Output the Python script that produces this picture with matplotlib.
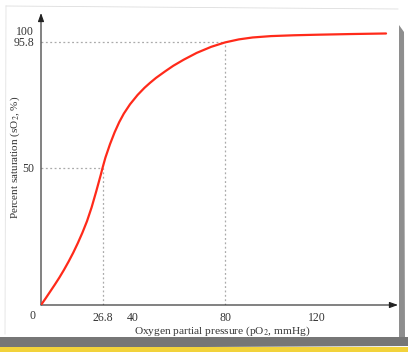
import matplotlib
matplotlib.use('Agg')
import matplotlib.pyplot as plt
from matplotlib.patches import Polygon, Rectangle

plt.rcParams['font.family'] = ['Liberation Serif', 'DejaVu Serif']
plt.rcParams['mathtext.fontset'] = 'stix'

# Values (pO2 in mmHg, saturation in %)
po2 = [0, 2, 4, 6, 8, 10, 12, 14, 16, 18, 20, 22, 24, 26, 26.8, 28, 30, 32, 34, 36,
       38.7, 42, 45, 47.4, 50, 54, 57.5, 62, 67.7, 74, 80, 86, 92, 100, 110, 120, 135, 150]
so2 = [0, 2.4, 4.9, 7.4, 10.0, 12.8, 15.8, 19.0, 22.5, 26.3, 30.5, 35.5, 41.3, 47.4, 50, 53.6,
       58.5, 62.8, 66.5, 69.6, 73.0, 76.4, 79.0, 80.8, 82.6, 85.0, 87.0, 89.2, 91.7, 93.9,
       95.5, 96.6, 97.3, 97.8, 98.1, 98.3, 98.55, 98.75]

p50 = 26.8
s50 = 50
p_art = 80
s_art = 95.8
xtick_vals = [26.8, 40, 80, 120]
xtick_labels = ['26.8', '40', '80', '120']
ytick_vals = [50, 95.8, 100]
ytick_labels = ['50', '95.8', '100']

W, H = 408, 352
fig = plt.figure(figsize=(W / 100, H / 100), dpi=100)
fig.patch.set_facecolor('white')

# paper shadow / torn edges
fig.add_artist(Polygon([[0, 15 / H], [1, 15 / H], [1, 6 / H], [0, 4 / H]],
                       closed=True, transform=fig.transFigure, facecolor='#767676',
                       edgecolor='none', zorder=0))
fig.add_artist(Rectangle((0, 0), 1, 5 / H, transform=fig.transFigure,
                         facecolor='#f2d23a', edgecolor='none', zorder=0))
fig.add_artist(Polygon([[399 / W, 327 / H], [404 / W, 320 / H], [405 / W, 15 / H], [399 / W, 15 / H]],
                       closed=True, transform=fig.transFigure, facecolor='#8e8e8e',
                       edgecolor='none', zorder=0))
# faint paper outline
fig.add_artist(plt.Line2D([6 / W, 398 / W], [1 - 6 / H, 1 - 9 / H], transform=fig.transFigure,
                          color='#dddddd', lw=0.6))
fig.add_artist(plt.Line2D([6 / W, 5 / W], [1 - 6 / H, 18 / H], transform=fig.transFigure,
                          color='#e2e2e2', lw=0.6))

ax = fig.add_axes([41 / W, 47 / H, 357 / W, 292 / H])
ax.set_xlim(0, 155.2)
ax.set_ylim(0, 106.2)
ax.patch.set_alpha(0)
for s in ax.spines.values():
    s.set_visible(False)

# axes with arrow heads
arrow = dict(arrowstyle='-|>,head_length=0.5,head_width=0.18', color='#222222', lw=0.8,
             shrinkA=0, shrinkB=0)
ax.annotate('', xy=(1, 0), xytext=(0, 0), xycoords='axes fraction', arrowprops=arrow)
ax.annotate('', xy=(0, 1), xytext=(0, 0), xycoords='axes fraction', arrowprops=arrow)

# guide lines
guide = dict(color='#aaaaaa', lw=0.9, ls=(0, (1.5, 2)))
ax.plot([0, p_art], [s_art, s_art], **guide)
ax.plot([p_art, p_art], [0, s_art], **guide)
ax.plot([0, p50], [s50, s50], **guide)
ax.plot([p50, p50], [0, s50], **guide)

ax.plot(po2, so2, color='#ff2a1a', lw=1.6, solid_capstyle='round',
        solid_joinstyle='round', zorder=3)

ax.set_xticks(xtick_vals)
ax.set_xticklabels(xtick_labels)
ax.set_yticks(ytick_vals)
ax.set_yticklabels(ytick_labels)
ax.tick_params(length=0, labelsize=8.5, labelcolor='#333333')
ax.tick_params(axis='x', pad=5)
ax.tick_params(axis='y', pad=5)
ax.text(-3.5, -4, '0', ha='center', va='center', fontsize=8.5, color='#333333', clip_on=False)

fig.text(222 / W, 1 - 331 / H, 'Oxygen partial pressure (pO$_2$, mmHg)', ha='center', va='center',
         fontsize=8.2, color='#333333')
fig.text(15 / W, 1 - 157 / H, 'Percent saturation (sO$_2$, %)', ha='center', va='center',
         rotation=90, fontsize=8, color='#333333')

fig.savefig('out.png', dpi=100, facecolor='white')
